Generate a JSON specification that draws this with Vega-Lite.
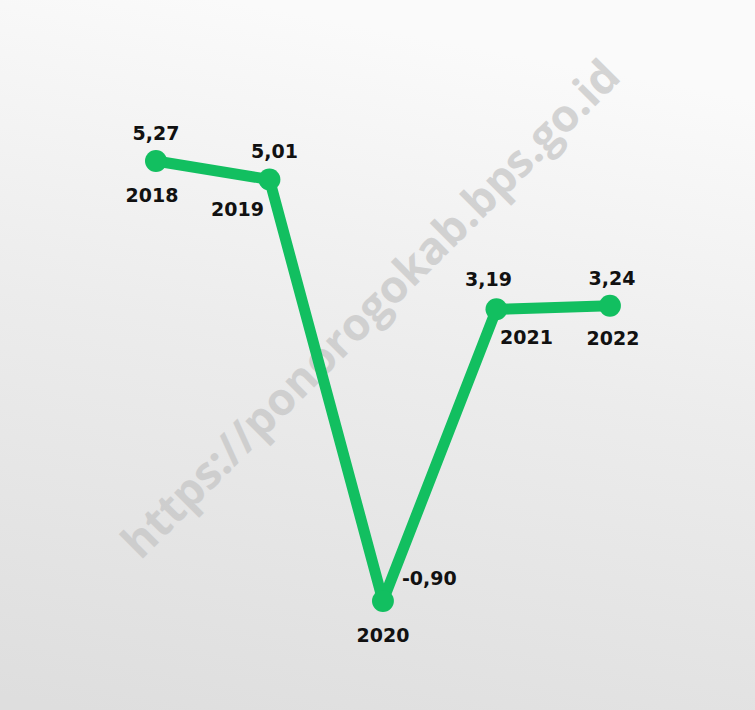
{
  "$schema": "https://vega.github.io/schema/vega-lite/v6.json",
  "width": 755,
  "height": 710,
  "autosize": {"type": "fit", "contains": "padding"},
  "padding": 0,
  "background": "#f2f2f2",
  "config": {
    "view": {"stroke": null, "fill": {"gradient": "linear", "x1": 0.3, "y1": 0, "x2": 0.1, "y2": 1, "stops": [{"offset": 0, "color": "#fafafa"}, {"offset": 0.45, "color": "#ececec"}, {"offset": 1, "color": "#dedede"}]}},
    "text": {"font": "DejaVu Sans", "fontWeight": "bold", "fontSize": 19, "color": "#111111"}
  },
  "data": {"values": [
    {"year": 2018, "value": 5.27, "label": "5,27"},
    {"year": 2019, "value": 5.01, "label": "5,01"},
    {"year": 2020, "value": -0.90, "label": "-0,90"},
    {"year": 2021, "value": 3.19, "label": "3,19"},
    {"year": 2022, "value": 3.24, "label": "3,24"}
  ]},
  "encoding": {
    "x": {"field": "year", "type": "quantitative", "scale": {"domain": [2016.626, 2023.278], "nice": false, "zero": false}, "axis": null},
    "y": {"field": "value", "type": "quantitative", "scale": {"domain": [-2.429, 7.528], "nice": false, "zero": false}, "axis": null}
  },
  "layer": [
    {
      "data": {"values": [{"text": "https://ponorogokab.bps.go.id", "x": 2019.9, "y": 3.18}]},
      "mark": {"type": "text", "angle": -45, "fontSize": 45, "font": "Open Sans", "fontWeight": "bold", "color": "#c4c4c4", "opacity": 0.7, "align": "center", "baseline": "middle"},
      "encoding": {
        "x": {"field": "x", "type": "quantitative"},
        "y": {"field": "y", "type": "quantitative"},
        "text": {"field": "text"}
      }
    },
    {"mark": {"type": "line", "color": "#12bf60", "strokeWidth": 11, "strokeJoin": "round"}},
    {"mark": {"type": "point", "filled": true, "color": "#12bf60", "opacity": 1, "size": 480}},
    {"transform": [{"filter": "datum.year == 2018"}], "mark": {"type": "text", "dy": -27}, "encoding": {"text": {"field": "label"}}},
    {"transform": [{"filter": "datum.year == 2019"}], "mark": {"type": "text", "dy": -28, "dx": 5}, "encoding": {"text": {"field": "label"}}},
    {"transform": [{"filter": "datum.year == 2020"}], "mark": {"type": "text", "dy": -22, "dx": 19, "align": "left"}, "encoding": {"text": {"field": "label"}}},
    {"transform": [{"filter": "datum.year == 2021"}], "mark": {"type": "text", "dy": -29, "dx": -8}, "encoding": {"text": {"field": "label"}}},
    {"transform": [{"filter": "datum.year == 2022"}], "mark": {"type": "text", "dy": -27, "dx": 2}, "encoding": {"text": {"field": "label"}}},
    {"transform": [{"filter": "datum.year == 2018"}], "mark": {"type": "text", "dy": 35, "dx": -4}, "encoding": {"text": {"field": "year", "type": "nominal"}}},
    {"transform": [{"filter": "datum.year == 2019"}], "mark": {"type": "text", "dy": 30, "dx": -32}, "encoding": {"text": {"field": "year", "type": "nominal"}}},
    {"transform": [{"filter": "datum.year == 2020"}], "mark": {"type": "text", "dy": 35, "dx": 0}, "encoding": {"text": {"field": "year", "type": "nominal"}}},
    {"transform": [{"filter": "datum.year == 2021"}], "mark": {"type": "text", "dy": 29, "dx": 30}, "encoding": {"text": {"field": "year", "type": "nominal"}}},
    {"transform": [{"filter": "datum.year == 2022"}], "mark": {"type": "text", "dy": 33, "dx": 3}, "encoding": {"text": {"field": "year", "type": "nominal"}}}
  ]
}
